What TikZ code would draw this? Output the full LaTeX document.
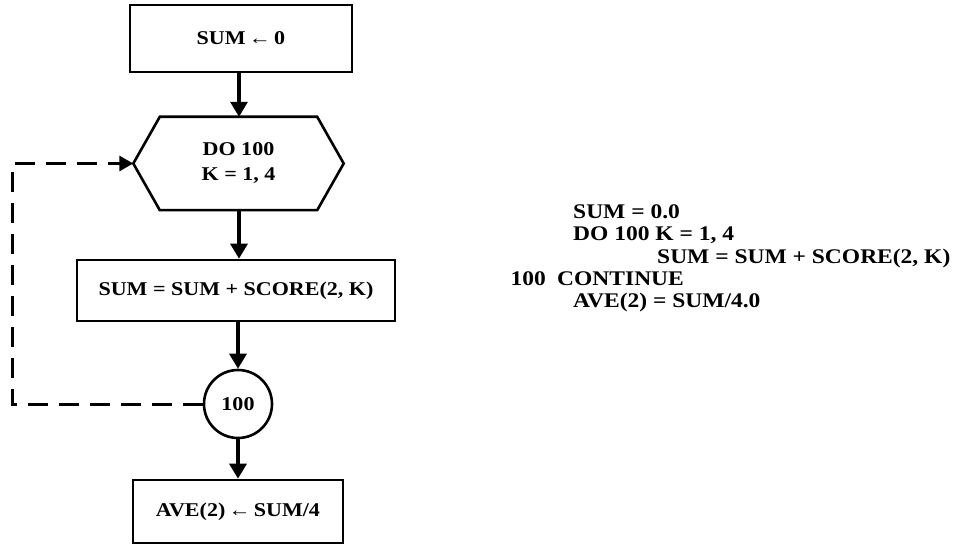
\documentclass[tikz,border=0pt]{standalone}
\usepackage{fontspec}
\setmainfont{Liberation Serif}[FakeStretch=1.13]
\usetikzlibrary{arrows.meta,calc}
\tikzset{
  boxnode/.style={draw, line width=2.6pt, inner sep=0pt, font=\bfseries\fontsize{19.5}{25}\selectfont},
  flow/.style={line width=3.2pt, -{Triangle[width=17pt,length=15pt]}},
  loopline/.style={line width=3pt, dash pattern=on 20pt off 11pt, -{Triangle[width=15pt,length=14pt]}},
  code/.style={anchor=base west, inner sep=0pt, font=\bfseries\fontsize{20.8}{25}\selectfont}
}
\begin{document}
\begin{tikzpicture}[x=1pt,y=-1pt]
\useasboundingbox (0,0) rectangle (954,548);
\fill[white] (0,0) rectangle (954,548);
% flowchart
\node[boxnode, minimum width=222pt, minimum height=67pt] (b1) at (241,38.5) {SUM\,←\,0};
\node[inner sep=0pt, minimum width=157pt, minimum height=93pt, align=center,
      font=\bfseries\fontsize{19.5}{25}\selectfont] (hex) at (238.5,163.5) {DO 100\\K = 1, 4};
\draw[line width=2.6pt, line join=miter]
  (hex.north west) -- (hex.north east) -- ($(hex.east)+(26.5,0)$) -- (hex.south east)
  -- (hex.south west) -- ($(hex.west)+(-26.5,0)$) -- cycle;
\coordinate (hexW) at ($(hex.west)+(-26.5,0)$);
\node[boxnode, minimum width=318pt, minimum height=61pt] (b2) at (236,290.5) {SUM = SUM + SCORE(2, K)};
\node[boxnode, circle, minimum size=68pt] (c) at (238,404) {100};
\node[boxnode, minimum width=210pt, minimum height=63pt] (b3) at (238,511.5) {AVE(2)\,←\,SUM/4};
\draw[flow] (239,72) -- (hex.north -| 239,0);
\draw[flow] (hex.south -| 239,0) -- (b2.north -| 239,0);
\draw[flow] (b2.south -| c.north) -- (c.north);
\draw[flow] (c.south) -- (b3.north);
\coordinate (corner1) at (12,404);
\coordinate (corner2) at (12,163.5);
\draw[loopline] (c.west) -- (corner1) -- (corner2) -- (hexW);
% code
\node[code] (l1) at (573,218.5) {SUM = 0.0};
\node[code] (l2) at (573,241) {DO 100 K = 1, 4};
\node[code] (l3) at (657,263.5) {SUM = SUM + SCORE(2, K)};
\node[code, anchor=base east] (l4a) at (546,286) {100};
\node[code] (l4b) at (557,286) {CONTINUE};
\node[code] (l5) at (573,308) {AVE(2) = SUM/4.0};
\end{tikzpicture}
\end{document}
